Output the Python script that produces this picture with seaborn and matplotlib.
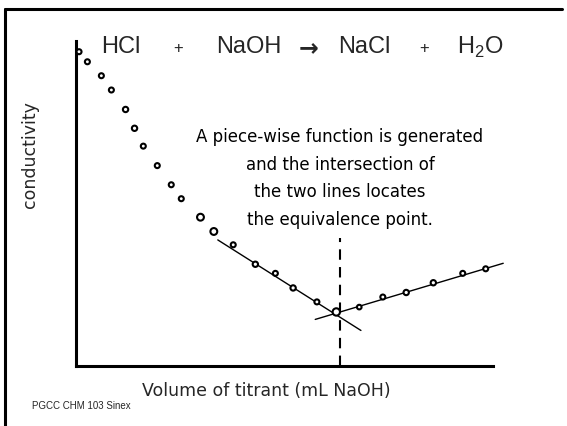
import numpy as np
import pandas as pd
import matplotlib.pyplot as plt
from matplotlib.lines import Line2D
import seaborn as sns

sns.set_style("white")
plt.rcParams['font.family'] = ['DejaVu Sans']

# Titration readings (volume in arbitrary mL units, conductivity arbitrary)
volume = [0.16, 0.56, 1.23, 1.71, 2.39, 2.82, 3.24, 3.91, 4.58, 5.06, 5.98, 6.62,
          7.55, 8.61, 9.57, 10.42, 11.56, 12.49, 13.59, 14.72, 15.84, 17.14, 18.55, 19.65]
conductivity = [9.67, 9.36, 8.93, 8.49, 7.89, 7.31, 6.76, 6.16, 5.57, 5.14, 4.57, 4.13,
                3.72, 3.12, 2.84, 2.39, 1.96, 1.65, 1.80, 2.11, 2.25, 2.55, 2.84, 2.98]
marker_size = [14, 14, 14, 14, 16, 16, 14, 14, 14, 14, 26, 26,
               14, 16, 14, 16, 14, 30, 12, 14, 16, 16, 14, 14]

# the two fitted segments of the piece-wise function
left_fit_x = [6.81, 13.67]
left_fit_y = [3.87, 1.08]
right_fit_x = [11.48, 20.49]
right_fit_y = [1.42, 3.15]

# equivalence point marker
equiv_x = [12.68, 12.68]
equiv_y = [0.0, 3.93]

W, H = 567, 426
fig = plt.figure(figsize=(W / 100, H / 100), dpi=100)
ax = fig.add_axes([75.7 / W, 60.5 / H, (493 - 75.7) / W, (365.5 - 41) / H])

df = pd.DataFrame({'volume': volume, 'conductivity': conductivity, 'size': marker_size})

ax.plot(left_fit_x, left_fit_y, color='black', lw=1.0, clip_on=False)
ax.plot(right_fit_x, right_fit_y, color='black', lw=1.0, clip_on=False)
ax.plot(equiv_x, equiv_y, color='black', lw=1.5, ls=(0, (5, 3.5)), clip_on=False)

sns.scatterplot(data=df, x='volume', y='conductivity', size='size', sizes=(11, 28),
                marker='o', facecolor='white', edgecolor='black', linewidth=1.5,
                legend=False, ax=ax, clip_on=False, zorder=5)

ax.set_xlim(0, 20)
ax.set_ylim(0, 10)
ax.set_xticks([])
ax.set_yticks([])
ax.set_xlabel('')
ax.set_ylabel('')
for side in ['top', 'right']:
    ax.spines[side].set_visible(False)
for side in ['left', 'bottom']:
    ax.spines[side].set_linewidth(2.2)
    ax.spines[side].set_color('black')

def ftext(px, py, s, **kw):
    fig.text(px / W, 1 - py / H, s, **kw)

# reaction equation
eq_kw = dict(family='Liberation Sans', fontsize=17, ha='center', va='center')
plus_kw = dict(family='Liberation Sans', fontsize=12, ha='center', va='center')
ftext(121, 47, 'HCl', **eq_kw)
ftext(178, 49, '+', **plus_kw)
ftext(249, 47, 'NaOH', **eq_kw)
ftext(309, 48, '→', family='DejaVu Sans', fontsize=17, fontweight='bold', ha='center', va='center')
ftext(364, 47, 'NaCl', **eq_kw)
ftext(424, 49, '+', **plus_kw)
ftext(480, 47, r'H$_{\mathregular{2}}$O', **eq_kw)

# annotation
note = ['A piece-wise function is generated', 'and the intersection of',
        'the two lines locates', 'the equivalence point.']
for i, line in enumerate(note):
    ftext(340, 137 + i * 27.5, line, fontsize=12, ha='center', va='center', color='black')

ftext(30, 155, 'conductivity', fontsize=12.5, rotation=90, ha='center', va='center')
ftext(266, 391, 'Volume of titrant (mL NaOH)', fontsize=12.5, ha='center', va='center')
ftext(32, 406, 'PGCC CHM 103 Sinex', family='Liberation Sans', fontsize=7, ha='left', va='center')

# slide frame
fig.add_artist(Line2D([5 / W, 562 / W], [1 - 9 / H, 1 - 9 / H], color='black', lw=2.2))
fig.add_artist(Line2D([5 / W, 5 / W], [1 - 9 / H, 0], color='black', lw=2.2))

fig.savefig('out.png', dpi=100)
